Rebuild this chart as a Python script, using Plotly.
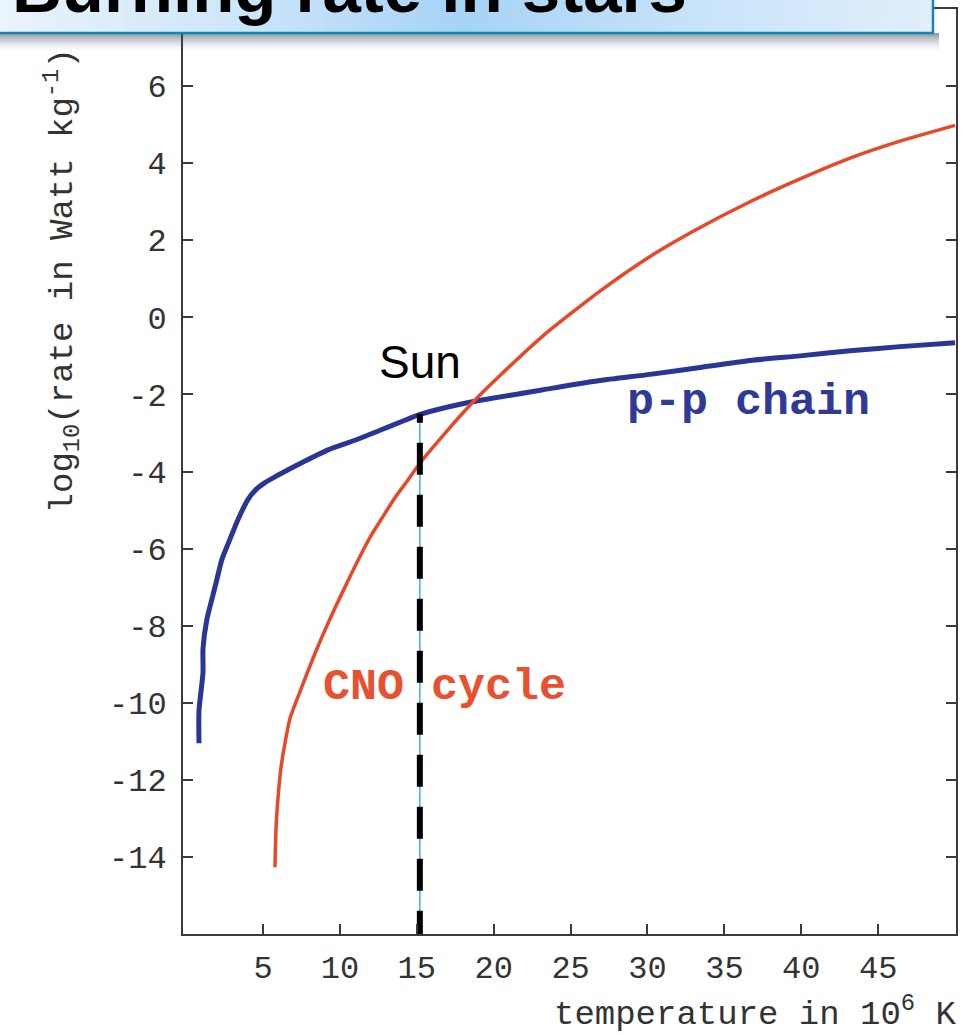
import plotly.graph_objects as go

# p-p chain energy generation rate (log10 W/kg) vs core temperature (10^6 K)
pp_temp = [0.84, 0.84, 1.10, 1.10, 1.36, 1.68, 2.01, 2.33, 2.85, 3.37, 4.02, 4.54,
           5.13, 5.78, 6.76, 7.73, 9.23, 10.98, 12.61, 14.23, 15.21, 18.13, 23.66, 26.91,
           30.17, 33.42, 36.67, 39.92, 43.17, 46.42, 50.0]
pp_rate = [-11.05, -10.2, -9.22, -8.6, -7.82, -7.31, -6.79, -6.28, -5.76, -5.25, -4.73,
           -4.47, -4.29, -4.14, -3.93, -3.73, -3.44, -3.19, -2.93, -2.67, -2.52, -2.23,
           -1.85, -1.64, -1.48, -1.30, -1.12, -1.0, -0.87, -0.76, -0.66]

# CNO cycle energy generation rate
cno_temp = [5.78, 5.85, 5.98, 6.17, 6.43, 6.76, 7.41, 8.51, 9.36, 10.33, 11.11, 11.96,
            12.80, 13.58, 14.43, 15.21, 16.83, 18.46, 20.41, 23.21, 26.91, 30.17, 33.42,
            36.67, 39.92, 43.17, 46.42, 50.0]
cno_rate = [-14.27, -13.24, -12.46, -11.69, -11.05, -10.40, -9.71, -8.60, -7.82, -7.0,
            -6.36, -5.71, -5.17, -4.68, -4.22, -3.78, -3.01, -2.28, -1.51, -0.48, 0.68,
            1.58, 2.33, 3.0, 3.59, 4.13, 4.57, 4.98]

# The Sun's core temperature and its p-p rate
sun_temp = 15.2
sun_rate = -2.5
rate_floor = -16

x_tick_vals = [5, 10, 15, 20, 25, 30, 35, 40, 45]
y_tick_vals = [-14, -12, -10, -8, -6, -4, -2, 0, 2, 4, 6]
y_tick_text = ["-14", "-12", "-10", "-8", "-6", "-4", "-2", "0", "2", "4", "6"]

W, H = 965, 1035
ML, MR, MT, MB = 183, 9, 7, 101
PW, PH = W - ML - MR, H - MT - MB


def px(xp):
    return (xp - ML) / PW


def py(yp):
    return (H - MB - yp) / PH


MONO = "Liberation Mono, Courier New, monospace"
SANS = "Liberation Sans, Arial, sans-serif"
AXIS = "#3a3a3a"

fig = go.Figure()

fig.add_trace(go.Scatter(x=pp_temp, y=pp_rate, mode="lines",
                         line=dict(color="#2b3595", width=5, shape="spline", smoothing=0.6),
                         hoverinfo="skip", showlegend=False))
fig.add_trace(go.Scatter(x=cno_temp, y=cno_rate, mode="lines",
                         line=dict(color="#e8482a", width=3.5, shape="spline", smoothing=0.6),
                         hoverinfo="skip", showlegend=False))

# Sun marker line: thin blue guide under a thick black dashed line
fig.add_trace(go.Scatter(x=[sun_temp, sun_temp], y=[rate_floor, sun_rate], mode="lines",
                         line=dict(color="#3fa9e6", width=1.5),
                         hoverinfo="skip", showlegend=False))
fig.add_trace(go.Scatter(x=[sun_temp, sun_temp], y=[sun_rate, rate_floor], mode="lines",
                         line=dict(color="black", width=6, dash="9px,20px,23px,0px"),
                         hoverinfo="skip", showlegend=False))

shapes = []

# header banner: horizontal light-blue gradient built from narrow strips
stops = [(0.0, (234, 244, 253)), (0.25, (207, 230, 250)), (0.5, (166, 211, 245)),
         (0.75, (200, 227, 249)), (1.0, (226, 239, 252))]


def grad(t):
    for (t0, c0), (t1, c1) in zip(stops[:-1], stops[1:]):
        if t0 <= t <= t1:
            f = (t - t0) / (t1 - t0)
            return "rgb(%d,%d,%d)" % tuple(round(a + (b - a) * f) for a, b in zip(c0, c1))
    return "rgb(%d,%d,%d)" % stops[-1][1]


bx0, bx1, by0, by1 = -4, 933, -10, 31
n = 80
# soft shadow beneath the banner
for i in range(9):
    a = 0.55 * (1 - i / 9) ** 1.6
    shapes.append(dict(type="rect", xref="paper", yref="paper", layer="above",
                       x0=px(bx0), x1=px(bx1 + 6), y0=py(by1 + 2 * i + 2), y1=py(by1 + 2 * i),
                       fillcolor="rgba(60,80,95,%.3f)" % a, line=dict(width=0)))
for i in range(n):
    xa = bx0 + (bx1 - bx0) * i / n
    xb = bx0 + (bx1 - bx0) * (i + 1) / n + 0.6
    shapes.append(dict(type="rect", xref="paper", yref="paper", layer="above",
                       x0=px(xa), x1=px(xb), y0=py(by1), y1=py(by0),
                       fillcolor=grad((i + 0.5) / n), line=dict(width=0)))
shapes.append(dict(type="rect", xref="paper", yref="paper", layer="above",
                   x0=px(bx0), x1=px(bx1), y0=py(by1), y1=py(by0),
                   fillcolor="rgba(0,0,0,0)", line=dict(color="#1786b3", width=2.5)))

annotations = [
    dict(text="<b>Burning rate in stars</b>", xref="paper", yref="paper",
         x=px(10), y=py(-14), xanchor="left", yanchor="middle", showarrow=False,
         font=dict(family=SANS, size=69, color="black")),
    dict(text="Sun", xref="x", yref="y", x=sun_temp, y=-1.15, xanchor="center",
         yanchor="middle", showarrow=False, font=dict(family=SANS, size=46, color="black")),
    dict(text="<b>p-p chain</b>", xref="x", yref="y", x=36.6, y=-2.2, xanchor="center",
         yanchor="middle", showarrow=False, font=dict(family=MONO, size=45, color="#2e3a96")),
    dict(text="<b>CNO cycle</b>", xref="x", yref="y", x=16.8, y=-9.6, xanchor="center",
         yanchor="middle", showarrow=False, font=dict(family=MONO, size=45, color="#e8502f")),
    dict(text="log<sub>10</sub>(rate in Watt kg<sup>-1</sup>)", xref="paper", yref="paper",
         x=px(62), y=py(280), xanchor="center", yanchor="middle", textangle=-90,
         showarrow=False, font=dict(family=MONO, size=34, color="#333333")),
    dict(text="temperature in 10<sup>6</sup> K", xref="paper", yref="paper",
         x=px(959), y=py(1012), xanchor="right", yanchor="middle",
         showarrow=False, font=dict(family=MONO, size=34, color="#333333")),
]

fig.update_layout(
    width=W, height=H, margin=dict(l=ML, r=MR, t=MT, b=MB),
    paper_bgcolor="white", plot_bgcolor="white",
    shapes=shapes, annotations=annotations,
    xaxis=dict(range=[-0.2, 50.06], tickvals=x_tick_vals, ticks="inside", ticklen=10,
               tickwidth=2, tickcolor=AXIS, showline=True, linecolor=AXIS, linewidth=2,
               mirror="ticks", showgrid=False, zeroline=False, ticklabelstandoff=4,
               tickfont=dict(family=MONO, size=32, color="#333333")),
    yaxis=dict(range=[-16, 8], tickvals=y_tick_vals, ticktext=y_tick_text, ticks="inside",
               ticklen=10, tickwidth=2, tickcolor=AXIS, showline=True, linecolor=AXIS,
               linewidth=2, mirror="ticks", showgrid=False, zeroline=False,
               ticklabelstandoff=8, tickfont=dict(family=MONO, size=32, color="#333333")),
)

fig.write_html("out.html")
